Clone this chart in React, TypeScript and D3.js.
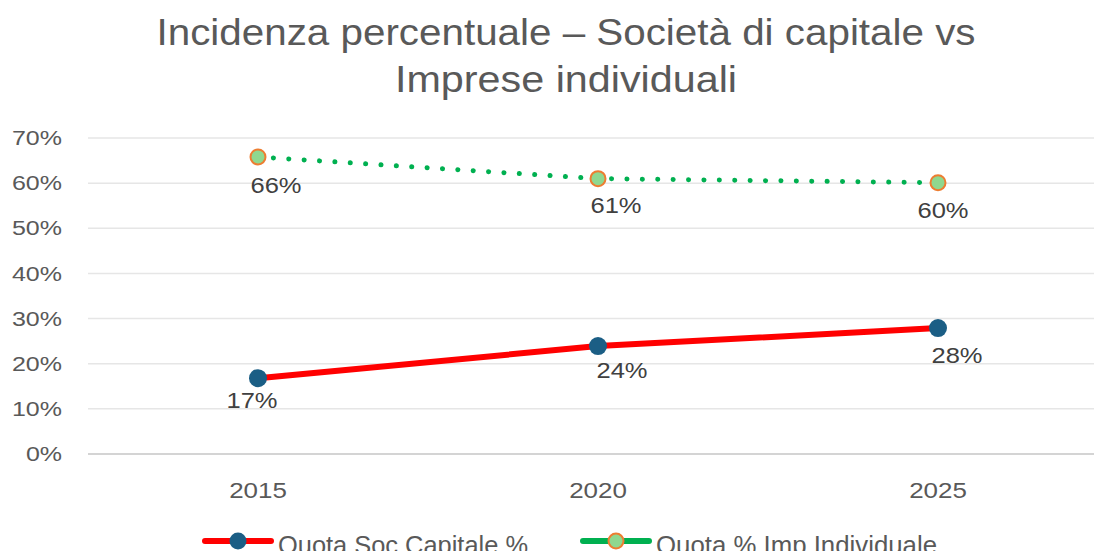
import React, { useRef, useEffect } from "react";
import * as d3 from "d3";

// data
const years = ["2015", "2020", "2025"];
const socCapitale = [0.168, 0.239, 0.279];
const impIndividuale = [0.658, 0.61, 0.601];
const yTicks = [0, 0.1, 0.2, 0.3, 0.4, 0.5, 0.6, 0.7];
const seriesNames = ["Quota Soc Capitale %", "Quota % Imp Individuale"];
const titleLines = ["Incidenza percentuale – Società di capitale vs", "Imprese individuali"];

const W = 1094;
const H = 551;
const FONT = "'Liberation Sans', Arial, sans-serif";

const App = () => {
  const svgRef = useRef<SVGSVGElement>(null);

  useEffect(() => {
    const svg = d3.select(svgRef.current);
    svg.selectAll("*").remove();

    const margin = { top: 138, left: 88, bottom: 454 };

    const x = d3.scaleBand().domain(years).range([margin.left, 1108]);
    const y = d3.scaleLinear().domain([0, 0.7]).range([margin.bottom, margin.top]);
    const cx = (d: string) => (x(d) as number) + x.bandwidth() / 2;
    const pct = d3.format(".0%");

    svg.append("rect").attr("width", W).attr("height", H).attr("fill", "#fff");

    // title (picture is stretched horizontally, so force widths)
    const titleLen = [819, 342];
    svg
      .append("g")
      .selectAll("text")
      .data(titleLines)
      .join("text")
      .attr("x", 566)
      .attr("y", (d, i) => 45 + i * 47)
      .attr("text-anchor", "middle")
      .attr("font-family", FONT)
      .attr("font-size", "37px")
      .attr("textLength", (d, i) => titleLen[i])
      .attr("lengthAdjust", "spacingAndGlyphs")
      .attr("fill", "#595959")
      .text((d) => d);

    // gridlines
    svg
      .append("g")
      .selectAll("line")
      .data(yTicks.slice(1))
      .join("line")
      .attr("x1", margin.left)
      .attr("x2", W)
      .attr("y1", (d) => y(d))
      .attr("y2", (d) => y(d))
      .attr("stroke", "#e6e6e6")
      .attr("stroke-width", 1.5);

    svg
      .append("line")
      .attr("x1", margin.left)
      .attr("x2", W)
      .attr("y1", y(0))
      .attr("y2", y(0))
      .attr("stroke", "#d4d4d4")
      .attr("stroke-width", 2);

    // y axis labels
    svg
      .append("g")
      .selectAll("g")
      .data(yTicks)
      .join("g")
      .attr("transform", (d) => `translate(62,${y(d)}) scale(1.25,1)`)
      .append("text")
      .attr("dy", "0.36em")
      .attr("text-anchor", "end")
      .attr("font-family", FONT)
      .attr("font-size", "20px")
      .attr("fill", "#595959")
      .text((d) => pct(d));

    // x axis labels
    svg
      .append("g")
      .selectAll("g")
      .data(years)
      .join("g")
      .attr("transform", (d) => `translate(${cx(d)},498) scale(1.18,1)`)
      .append("text")
      .attr("text-anchor", "middle")
      .attr("font-family", FONT)
      .attr("font-size", "22px")
      .attr("fill", "#595959")
      .text((d) => d);

    const line = d3
      .line<number>()
      .x((d, i) => cx(years[i]))
      .y((d) => y(d));

    // green dotted series
    svg
      .append("path")
      .attr("d", line(impIndividuale))
      .attr("fill", "none")
      .attr("stroke", "#00B050")
      .attr("stroke-width", 5)
      .attr("stroke-linecap", "round")
      .attr("stroke-dasharray", "0.1 15.3");

    // red series
    svg
      .append("path")
      .attr("d", line(socCapitale))
      .attr("fill", "none")
      .attr("stroke", "#FF0000")
      .attr("stroke-width", 6)
      .attr("stroke-linecap", "round");

    svg
      .append("g")
      .selectAll("circle")
      .data(impIndividuale)
      .join("circle")
      .attr("cx", (d, i) => cx(years[i]))
      .attr("cy", (d) => y(d))
      .attr("r", 7.5)
      .attr("fill", "#8FD88F")
      .attr("stroke", "#ED7D31")
      .attr("stroke-width", 2);

    svg
      .append("g")
      .selectAll("circle")
      .data(socCapitale)
      .join("circle")
      .attr("cx", (d, i) => cx(years[i]))
      .attr("cy", (d) => y(d))
      .attr("r", 9)
      .attr("fill", "#1B5E85");

    // data labels, placed below the points as in the source chart
    const labelShift = [
      [-6, 22],
      [24, 24],
      [19, 27],
    ];
    const labelShiftTop = [
      [18, 28],
      [18, 26],
      [5, 27],
    ];
    const labels = [
      ...socCapitale.map((v, i) => ({ v, i, s: labelShift[i] })),
      ...impIndividuale.map((v, i) => ({ v, i, s: labelShiftTop[i] })),
    ];
    svg
      .append("g")
      .selectAll("g")
      .data(labels)
      .join("g")
      .attr(
        "transform",
        (d) => `translate(${cx(years[d.i]) + d.s[0]},${y(d.v) + d.s[1] + 8}) scale(1.16,1)`
      )
      .append("text")
      .attr("text-anchor", "middle")
      .attr("font-family", FONT)
      .attr("font-size", "22px")
      .attr("fill", "#404040")
      .text((d) => pct(d.v));

    // legend
    const legendItems = [
      { name: seriesNames[0], x: 205, len: 250, color: "#FF0000", fill: "#1B5E85", stroke: "none", r: 8.5 },
      { name: seriesNames[1], x: 583, len: 281, color: "#00B050", fill: "#8FD88F", stroke: "#ED7D31", r: 7.5 },
    ];
    const lg = svg
      .append("g")
      .selectAll("g")
      .data(legendItems)
      .join("g")
      .attr("transform", (d) => `translate(${d.x},541)`);
    lg.append("line")
      .attr("x1", 0)
      .attr("x2", 66)
      .attr("stroke", (d) => d.color)
      .attr("stroke-width", 6)
      .attr("stroke-linecap", "round");
    lg.append("circle")
      .attr("cx", 33)
      .attr("r", (d) => d.r)
      .attr("fill", (d) => d.fill)
      .attr("stroke", (d) => d.stroke)
      .attr("stroke-width", 2);
    lg.append("text")
      .attr("x", 73)
      .attr("y", 13)
      .attr("font-family", FONT)
      .attr("font-size", "25px")
      .attr("textLength", (d) => d.len)
      .attr("lengthAdjust", "spacingAndGlyphs")
      .attr("fill", "#595959")
      .text((d) => d.name);
  }, []);

  return (
    <svg
      ref={svgRef}
      width={W}
      height={H}
      style={{ position: "absolute", left: 0, top: 0, display: "block" }}
    ></svg>
  );
};

export default App;
